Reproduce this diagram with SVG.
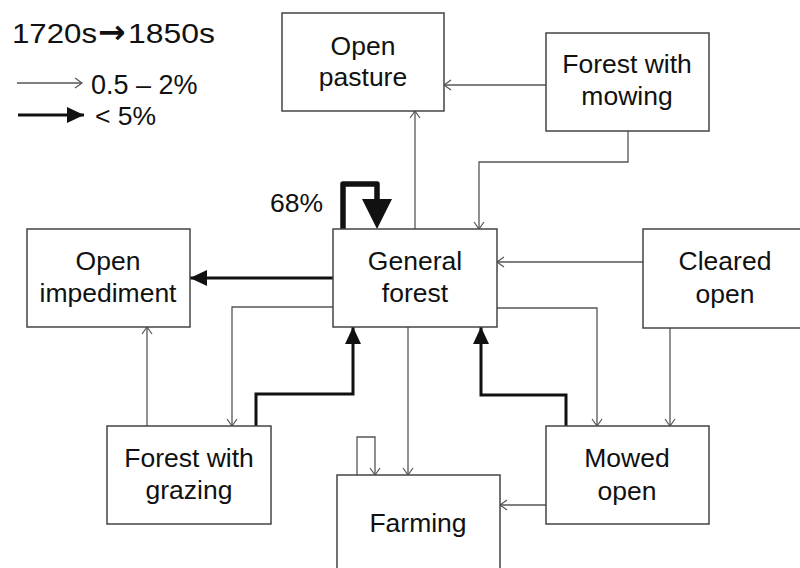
<svg xmlns="http://www.w3.org/2000/svg" width="800" height="568" viewBox="0 0 800 568">
<defs>
<style>
.box{fill:#fff;stroke:#444;stroke-width:1.5}
.t{font-family:"Liberation Sans",Arial,sans-serif;font-size:26.5px;fill:#111;text-anchor:middle}
.tl{font-family:"Liberation Sans",Arial,sans-serif;fill:#111}
.thin{fill:none;stroke:#555;stroke-width:1.3;marker-end:url(#open)}
.thick{fill:none;stroke:#111;stroke-width:3;marker-end:url(#solid)}
</style>
<marker id="open" markerUnits="userSpaceOnUse" markerWidth="12" markerHeight="12" viewBox="-8 -6 10 12" refX="0" refY="0" orient="auto">
<path d="M-7,-5 L0,0 L-7,5" fill="none" stroke="#555" stroke-width="1.2"/>
</marker>
<marker id="solid" markerUnits="userSpaceOnUse" markerWidth="20" markerHeight="20" viewBox="-18 -10 20 20" refX="0" refY="0" orient="auto">
<path d="M-17,-8 L0,0 L-17,8 Z" fill="#111"/>
</marker>
</defs>
<rect width="800" height="568" fill="#fff"/>

<g id="legend">
<text class="tl" x="12" y="43" font-size="28" textLength="85" lengthAdjust="spacingAndGlyphs">1720s</text>
<text x="98" y="43" font-family="DejaVu Sans,sans-serif" font-weight="bold" font-size="33" fill="#111">→</text>
<text class="tl" x="128" y="43" font-size="28" textLength="87" lengthAdjust="spacingAndGlyphs">1850s</text>
<line x1="17" y1="83" x2="82" y2="83" class="thin"/>
<text class="tl" x="91" y="94" font-size="27">0.5 – 2%</text>
<line x1="18" y1="115" x2="84" y2="115" class="thick"/>
<text class="tl" x="95" y="125" font-size="26.5">&lt; 5%</text>
</g>

<g id="connectors">
<line x1="546" y1="85" x2="444" y2="85" class="thin"/>
<path d="M628,131 V162 H479 V229" class="thin"/>
<line x1="415" y1="229" x2="415" y2="111" class="thin"/>
<line x1="643" y1="262" x2="497" y2="262" class="thin"/>
<path d="M497,308 H597 V426" class="thin"/>
<line x1="670" y1="328" x2="670" y2="426" class="thin"/>
<path d="M333,307 H232 V426" class="thin"/>
<line x1="147" y1="426" x2="147" y2="327" class="thin"/>
<line x1="408" y1="327" x2="408" y2="475" class="thin"/>
<path d="M357,475 V437 H375 V475" class="thin"/>
<line x1="546" y1="505" x2="500" y2="505" class="thin"/>
<line x1="333" y1="278" x2="190" y2="278" class="thick"/>
<path d="M256,426 V394 H353 V327" class="thick"/>
<path d="M566,426 V395 H481 V327" class="thick"/>
<path d="M343,230 V184 H377 V201" fill="none" stroke="#111" stroke-width="5.5" stroke-linecap="round" stroke-linejoin="round"/>
<path d="M362,199 L392,199 L377,229 Z" fill="#111"/>
<text class="tl" x="270" y="212" font-size="26.5">68%</text>
</g>

<g id="open-pasture">
<rect class="box" x="282" y="13" width="162" height="98"/>
<text class="t" x="363" y="55">Open</text>
<text class="t" x="363" y="86">pasture</text>
</g>
<g id="forest-with-mowing">
<rect class="box" x="546" y="33" width="163" height="98"/>
<text class="t" x="627" y="73">Forest with</text>
<text class="t" x="627" y="105">mowing</text>
</g>
<g id="general-forest">
<rect class="box" x="333" y="229" width="164" height="98"/>
<text class="t" x="415" y="270">General</text>
<text class="t" x="415" y="302">forest</text>
</g>
<g id="open-impediment">
<rect class="box" x="27" y="229" width="163" height="98"/>
<text class="t" x="108" y="270">Open</text>
<text class="t" x="108" y="302">impediment</text>
</g>
<g id="cleared-open">
<rect class="box" x="643" y="229" width="170" height="99"/>
<text class="t" x="725" y="270">Cleared</text>
<text class="t" x="725" y="303">open</text>
</g>
<g id="forest-with-grazing">
<rect class="box" x="107" y="426" width="164" height="98"/>
<text class="t" x="189" y="467">Forest with</text>
<text class="t" x="189" y="499">grazing</text>
</g>
<g id="mowed-open">
<rect class="box" x="546" y="426" width="163" height="98"/>
<text class="t" x="627" y="467">Mowed</text>
<text class="t" x="627" y="500">open</text>
</g>
<g id="farming">
<rect class="box" x="337" y="475" width="163" height="110"/>
<text class="t" x="418" y="532">Farming</text>
</g>
</svg>
